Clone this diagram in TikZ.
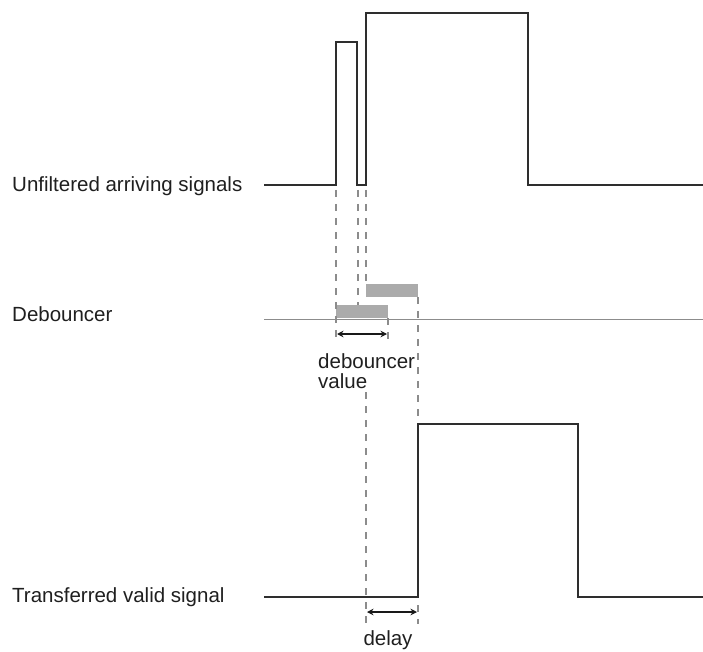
\documentclass[tikz,border=0pt]{standalone}
\usepackage{fontspec}
\setmainfont{Liberation Sans}
\usetikzlibrary{arrows.meta}
\begin{document}
\begin{tikzpicture}[x=1pt,y=-1pt,
  sig/.style={line width=2.2pt, draw=black!82, line join=miter},
  guide/.style={draw=black!45, line width=1.4pt, dash pattern=on 7pt off 7pt},
  gbar/.style={fill=black!33, draw=none},
  axisline/.style={draw=black!45, line width=1pt},
  span/.style={line width=1.8pt, draw=black!90, {Stealth[length=6.5pt,width=6.5pt]}-{Stealth[length=6.5pt,width=6.5pt]}},
  lbl/.style={font=\fontsize{20.5}{24}\selectfont, text=black!88, inner sep=0pt}]
\useasboundingbox (0,0) rectangle (703,652);

% labels
\node[lbl, anchor=base west] (lunf) at (12,192) {Unfiltered arriving signals};
\node[lbl, anchor=base west] (ldeb) at (12,321) {Debouncer};
\node[lbl, anchor=base west] (ltra) at (12,602) {Transferred valid signal};
\node[lbl, anchor=base west] (ldv1) at (318,368) {debouncer};
\node[lbl, anchor=base west] (ldv2) at (318,388) {value};
\node[lbl, anchor=base] (ldel) at (388,645) {delay};

% debouncer axis
\coordinate (da) at (264,319);
\coordinate (db) at (703,319);
\draw[axisline] (da) -- (db);

% grey debouncer bars
\fill[gbar] (336,305) rectangle (388,318);
\fill[gbar] (366,284) rectangle (418,297);

% dashed guides
\draw[guide] (336,190) -- (336,343);
\draw[guide] (358,190) -- (358,305);
\draw[guide] (366,190) -- (366,284);
\draw[guide] (388,318) -- (388,343);
\draw[guide] (366,392) -- (366,624);
\draw[guide] (418,297) -- (418,624);

% unfiltered signal
\draw[sig] (264,185) -- (336,185) -- (336,42) -- (357,42) -- (357,185)
  -- (366,185) -- (366,13) -- (528,13) -- (528,185) -- (703,185);

% transferred signal
\draw[sig] (264,597) -- (418,597) -- (418,424) -- (578,424) -- (578,597) -- (703,597);

% spans
\coordinate (d1) at (337,334);
\coordinate (d2) at (387,334);
\coordinate (e1) at (367,612);
\coordinate (e2) at (417,612);
\draw[span] (d1) -- (d2);
\draw[span] (e1) -- (e2);
\end{tikzpicture}
\end{document}
